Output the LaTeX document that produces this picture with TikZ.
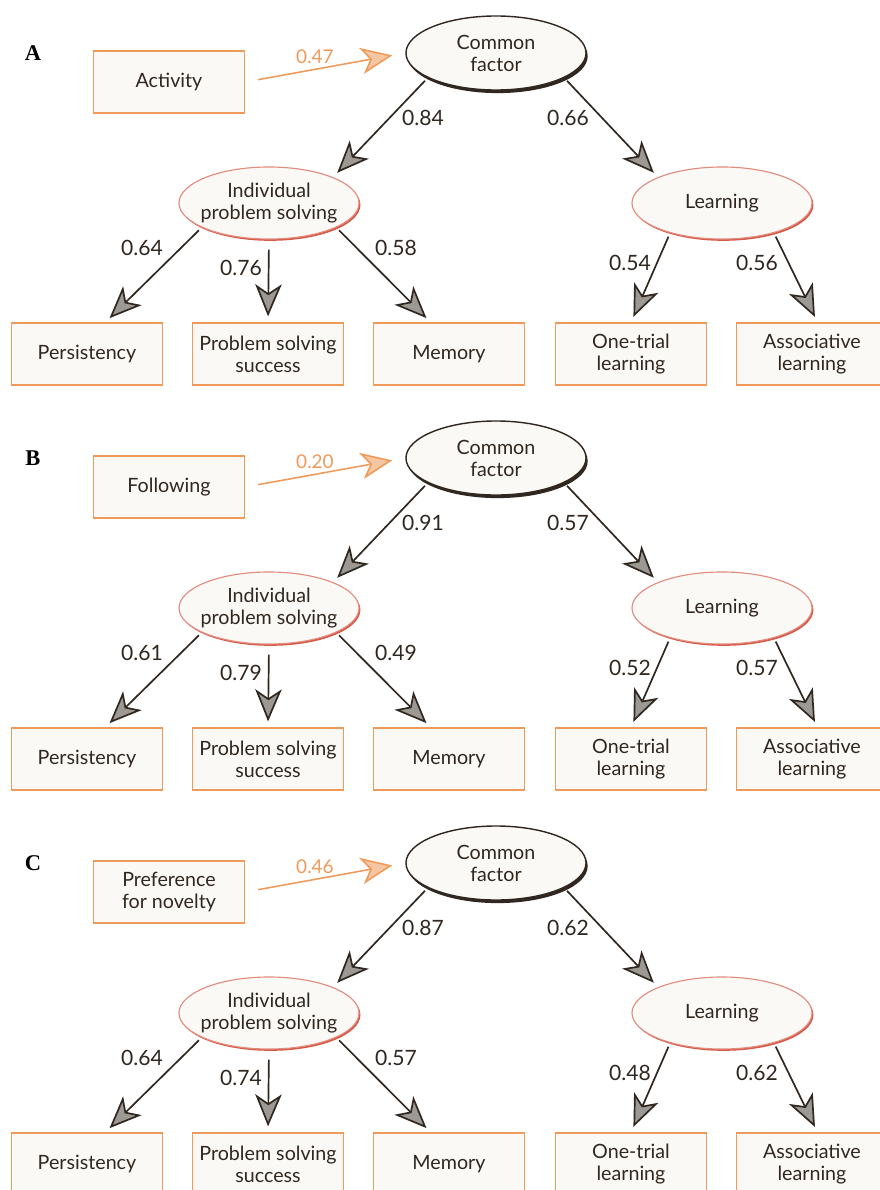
\documentclass[tikz,border=0pt]{standalone}
\usepackage{fontspec}
\setmainfont{Lato}
\newfontfamily\tagfont{Liberation Serif}
\usetikzlibrary{arrows.meta,shapes.geometric,shadows}
\definecolor{ink}{HTML}{2F2720}
\definecolor{paper}{HTML}{FBF9F5}
\definecolor{boxorange}{HTML}{F09A5A}
\definecolor{peach}{HTML}{F5C6A2}
\definecolor{tipgray}{HTML}{9C9893}
\definecolor{brick}{HTML}{D65A48}

\tikzset{
  obs/.style={draw=boxorange, fill=paper, line width=0.9pt, minimum width=3.775cm,
    minimum height=1.55cm, align=center, text=ink, font=\fontsize{14}{15.6}\selectfont},
  common/.style={ellipse, draw=ink, fill=paper, line width=1pt, minimum width=4.5cm,
    minimum height=1.85cm, inner xsep=-0.3cm, inner ysep=-0.1cm, align=center, text=ink,
    font=\fontsize{14}{15.6}\selectfont,
    drop shadow={shadow xshift=1.2pt, shadow yshift=-2.2pt, fill=ink, opacity=1}},
  latent/.style={ellipse, draw=brick!70, fill=paper, line width=0.8pt, minimum width=4.5cm,
    minimum height=1.8cm, inner xsep=-0.3cm, inner ysep=-0.1cm, align=center, text=ink,
    font=\fontsize{14}{15.6}\selectfont,
    drop shadow={shadow xshift=1pt, shadow yshift=-1.3pt, fill=brick, opacity=1}},
  num/.style={text=ink, inner sep=1pt, font=\fontsize{15}{17}\selectfont},
  cuenum/.style={text=boxorange, inner sep=1pt, font=\fontsize{13.5}{15}\selectfont},
  paneltag/.style={inner sep=0pt, font=\tagfont\bfseries\fontsize{16}{18}\selectfont},
  link/.style={draw=ink, line width=1.2pt, shorten <=0.1cm, shorten >=0.15cm,
    -{Stealth[length=0.8cm, width=0.66cm, inset=0.22cm, fill=tipgray]}},
  cue/.style={draw=boxorange, line width=1.1pt, shorten <=0.33cm, shorten >=0.33cm,
    -{Stealth[length=0.78cm, width=0.66cm, inset=0.22cm, fill=peach]}}
}

\begin{document}
\begin{tikzpicture}[x=0.025cm, y=-0.025cm]
  \useasboundingbox[fill=white] (0,0) rectangle (880,1190);
  \foreach \pn/\dy/\pred/\lp/\la/\lb/\lc/\ld/\le/\lf/\lg in {
      A/0/Activity/0.47/0.84/0.66/0.64/0.76/0.58/0.54/0.56,
      B/405/Following/0.20/0.91/0.57/0.61/0.79/0.49/0.52/0.57,
      C/810/{Preference\\for novelty}/0.46/0.87/0.62/0.64/0.74/0.57/0.48/0.62}{
    \begin{scope}[shift={(0,\dy)}]
      \node[paneltag] (tag\pn) at (33,53) {\pn};
      \node[obs] (pred\pn) at (169,82) {\pred};
      \node[common] (cf\pn) at (496,53) {Common\\factor};
      \node[latent] (ips\pn) at (269,203) {Individual\\problem solving};
      \node[latent] (learn\pn) at (722,203) {Learning};
      \node[obs] (pers\pn) at (87,354) {Persistency};
      \node[obs] (pss\pn) at (268,354) {Problem solving\\success};
      \node[obs] (mem\pn) at (449,354) {Memory};
      \node[obs] (ot\pn) at (631,354) {One-trial\\learning};
      \node[obs] (assoc\pn) at (812,354) {Associative\\learning};
      % paths
      \draw[cue] (pred\pn.east) -- (cf\pn.west);
      \draw[link] (cf\pn.200) -- (ips\pn.north east);
      \draw[link] (cf\pn.340) -- (learn\pn.north west);
      \draw[link] (ips\pn.200) -- (pers\pn.60);
      \draw[link, shorten <=0.25cm] (ips\pn.south) -- (pss\pn.north);
      \draw[link] (ips\pn.340) -- (mem\pn.120);
      \draw[link] (learn\pn.210) -- (ot\pn.north);
      \draw[link] (learn\pn.330) -- (assoc\pn.80);
      % loadings
      \node[cuenum] (wp\pn) at (315,57) {\lp};
      \node[num] (wa\pn) at (423,118) {\la};
      \node[num] (wb\pn) at (568,118) {\lb};
      \node[num] (wc\pn) at (142,248) {\lc};
      \node[num] (wd\pn) at (241,268) {\ld};
      \node[num] (we\pn) at (396,248) {\le};
      \node[num] (wf\pn) at (630,263) {\lf};
      \node[num] (wg\pn) at (757,263) {\lg};
    \end{scope}
  }
\end{tikzpicture}
\end{document}
